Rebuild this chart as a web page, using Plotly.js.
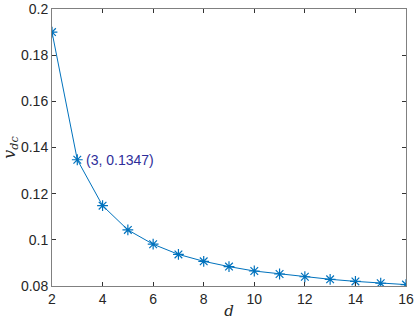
<!DOCTYPE html>
<html>
<head>
<meta charset="utf-8">
<script src="https://cdn.plot.ly/plotly-3.0.1.min.js"></script>
<style>
  html, body { margin: 0; padding: 0; background: #fff; }
  #chart { width: 415px; height: 320px; }
</style>
</head>
<body>
<div id="chart"></div>
<script>
// values
const dValues = [2, 3, 4, 5, 6, 7, 8, 9, 10, 11, 12, 13, 14, 15, 16];
const vdcValues = [0.1900, 0.1347, 0.1148, 0.1043, 0.0981, 0.0937, 0.0907, 0.0884,
                   0.0865, 0.0852, 0.0840, 0.0829, 0.0820, 0.0812, 0.0806];
const xTicks = [2, 4, 6, 8, 10, 12, 14, 16];
const yTicks = [0.08, 0.1, 0.12, 0.14, 0.16, 0.18, 0.2];
const yTickText = ['0.08', '0.1', '0.12', '0.14', '0.16', '0.18', '0.2'];
const tipIndex = 1; // data tip on d = 3

const trace = {
    x: dValues,
    y: vdcValues,
    mode: 'lines+markers',
    type: 'scatter',
    line: { color: '#0072BD', width: 1 },
    marker: {
        symbol: 'asterisk-open',
        size: 9,
        color: '#0072BD',
        line: { color: '#0072BD', width: 1.2 }
    }
};

const axisCommon = {
    showline: true,
    linecolor: '#808080',
    linewidth: 1,
    mirror: 'ticks',
    ticks: 'inside',
    ticklen: 4,
    tickcolor: '#333',
    tickwidth: 1,
    showgrid: false,
    zeroline: false,
    tickfont: { family: 'Liberation Sans, Arial, sans-serif', size: 14, color: '#262626' },
    fixedrange: true
};

const layout = {
    width: 415,
    height: 320,
    margin: { l: 52, r: 9, t: 9, b: 34 },
    paper_bgcolor: '#fff',
    plot_bgcolor: '#fff',
    showlegend: false,
    xaxis: Object.assign({}, axisCommon, {
        range: [2, 16],
        tickvals: xTicks,
        ticktext: xTicks.map(String),
        title: {
            text: '<i>d</i>',
            font: { family: 'DejaVu Serif, Liberation Serif, serif', size: 15, color: '#262626' },
            standoff: 4
        }
    }),
    yaxis: Object.assign({}, axisCommon, {
        range: [0.08, 0.2],
        tickvals: yTicks,
        ticktext: yTickText,
        title: {
            text: '<i>v</i><sub><i>dc</i></sub>',
            font: { family: 'DejaVu Serif, Liberation Serif, serif', size: 16, color: '#262626' },
            standoff: 8
        }
    }),
    annotations: [{
        x: dValues[tipIndex],
        y: vdcValues[tipIndex],
        xref: 'x',
        yref: 'y',
        text: '(' + dValues[tipIndex] + ', ' + vdcValues[tipIndex] + ')',
        showarrow: false,
        xanchor: 'left',
        yanchor: 'middle',
        xshift: 7,
        font: { family: 'Liberation Sans, Arial, sans-serif', size: 14, color: '#2E2E9A' }
    }]
};

const config = { displayModeBar: false, staticPlot: true };

Plotly.newPlot('chart', [trace], layout, config);
</script>
</body>
</html>
